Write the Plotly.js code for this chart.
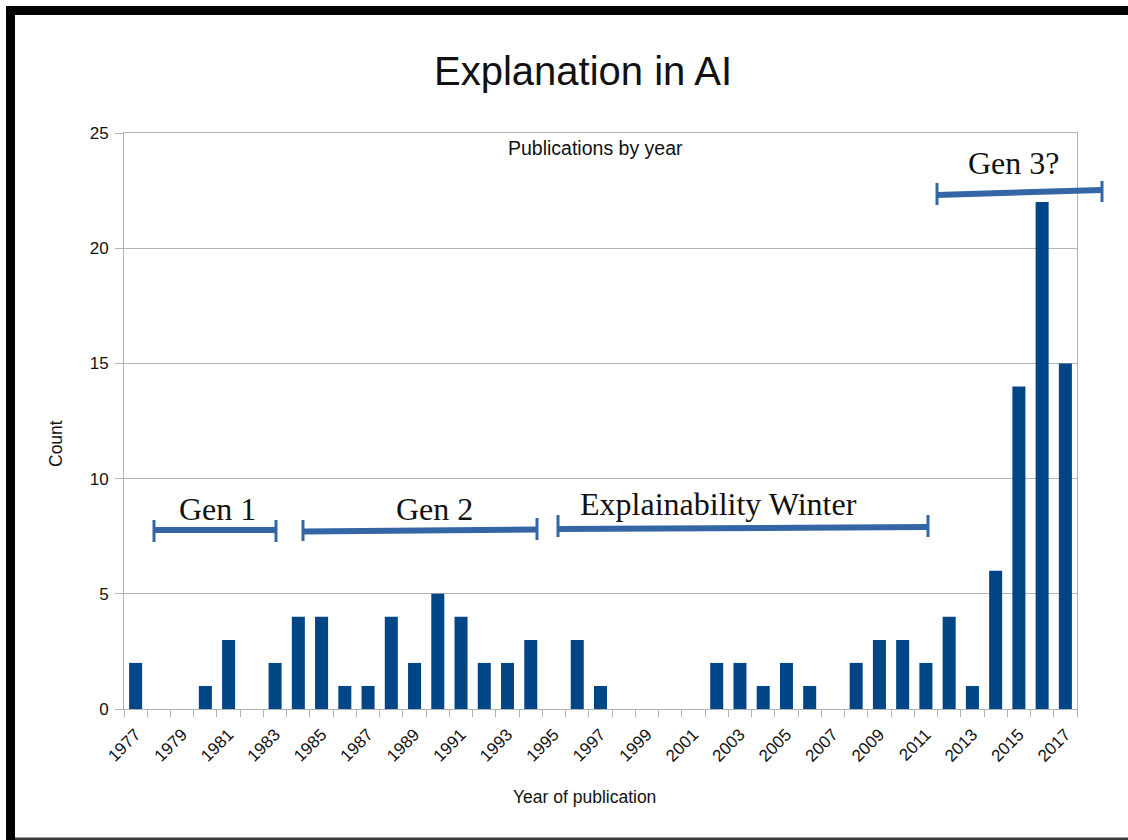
<!DOCTYPE html>
<html>
<head>
<meta charset="utf-8">
<script src="https://cdn.plot.ly/plotly-3.0.1.min.js"></script>
<style>
  html, body { margin: 0; padding: 0; background: #ffffff; }
  #chart { width: 1128px; height: 840px; }
</style>
</head>
<body>
<div id="chart"></div>
<script>
// ---- data ----
const years = [1977,1978,1979,1980,1981,1982,1983,1984,1985,1986,1987,1988,1989,1990,1991,1992,1993,1994,1995,1996,1997,1998,1999,2000,2001,2002,2003,2004,2005,2006,2007,2008,2009,2010,2011,2012,2013,2014,2015,2016,2017];
const counts = [2,0,0,1,3,0,2,4,4,1,1,4,2,5,4,2,2,3,0,3,1,0,0,0,0,2,2,1,2,1,0,2,3,3,2,4,1,6,14,22,15];
const tickYears = [1977,1979,1981,1983,1985,1987,1989,1991,1993,1995,1997,1999,2001,2003,2005,2007,2009,2011,2013,2015,2017];
const tickLabels = tickYears.map(String);
const eraLabels = ["Gen 1", "Gen 2", "Explainability Winter", "Gen 3?"];

// ---- layout helpers (pixel -> paper) ----
const L = 124, R = 51, T = 133, B = 131, W = 1128, H = 840;
const PW = W - L - R, PH = H - T - B;
const px = x => (x - L) / PW;
const py = y => (H - B - y) / PH;

const barColor = '#004586';
const bracketColor = '#3465a4';
const gridColor = '#b3b3b3';
const sans = 'Liberation Sans, Arial, sans-serif';
const serif = 'Liberation Serif, Times New Roman, serif';

// bracket definitions in pixel space (decoration, not data)
const brackets = [
  {x0:154, y0:530, x1:276, y1:530, c0:[520,542], c1:[520,542], tx:217, ty:509},
  {x0:303, y0:531.5, x1:537, y1:529.5, c0:[520,541], c1:[518,540], tx:434, ty:509},
  {x0:558, y0:529, x1:928, y1:527, c0:[515,537], c1:[515,537], tx:718, ty:504},
  {x0:937, y0:195, x1:1102, y1:190, c0:[183,205], c1:[181,202], tx:1014, ty:163}
];

const shapes = [
  // black frame top and left, grey bottom edge
  {type:'rect', xref:'paper', yref:'paper', x0:px(6), x1:px(1128), y0:py(15), y1:py(6), fillcolor:'#000', line:{width:0}, layer:'above'},
  {type:'rect', xref:'paper', yref:'paper', x0:px(6), x1:px(15), y0:py(840), y1:py(6), fillcolor:'#000', line:{width:0}, layer:'above'},
  {type:'rect', xref:'paper', yref:'paper', x0:px(15), x1:px(1128), y0:py(840), y1:py(837.5), fillcolor:'#3a3a3a', line:{width:0}, layer:'above'}
];
const annotations = [];
brackets.forEach((b, i) => {
  shapes.push({type:'line', xref:'paper', yref:'paper', x0:px(b.x0), y0:py(b.y0), x1:px(b.x1), y1:py(b.y1), line:{color:bracketColor, width:6}, layer:'above'});
  shapes.push({type:'line', xref:'paper', yref:'paper', x0:px(b.x0), y0:py(b.c0[0]), x1:px(b.x0), y1:py(b.c0[1]), line:{color:bracketColor, width:3}, layer:'above'});
  shapes.push({type:'line', xref:'paper', yref:'paper', x0:px(b.x1), y0:py(b.c1[0]), x1:px(b.x1), y1:py(b.c1[1]), line:{color:bracketColor, width:3}, layer:'above'});
  annotations.push({xref:'paper', yref:'paper', x:px(b.tx), y:py(b.ty), xanchor:'center', yanchor:'middle', showarrow:false, text:eraLabels[i], font:{family:serif, size:32, color:'#111'}});
});
annotations.push({xref:'paper', yref:'paper', x:px(595), y:py(148), xanchor:'center', yanchor:'middle', showarrow:false, text:'Publications by year', font:{family:sans, size:19.5, color:'#111'}});
annotations.push({xref:'paper', yref:'paper', x:px(56), y:py(444), xanchor:'center', yanchor:'middle', showarrow:false, textangle:-90, text:'Count', font:{family:sans, size:17.5, color:'#111'}});
annotations.push({xref:'paper', yref:'paper', x:px(584), y:py(797), xanchor:'center', yanchor:'middle', showarrow:false, text:'Year of publication', font:{family:sans, size:17.5, color:'#111'}});

const trace = {
  type: 'bar',
  x: years,
  y: counts,
  width: 0.56,
  marker: {color: barColor, line: {width: 0}},
  hoverinfo: 'x+y'
};

const layout = {
  width: W, height: H,
  margin: {l: L, r: R, t: T, b: B, pad: 0},
  paper_bgcolor: '#ffffff',
  plot_bgcolor: '#ffffff',
  showlegend: false,
  title: {text: 'Explanation in AI', x: 583 / W, xref: 'container', xanchor: 'center', y: 1 - 71 / H, yref: 'container', yanchor: 'middle', font: {family: sans, size: 40, color: '#111'}},
  xaxis: {
    type: 'linear',
    range: [1976.5, 2017.5],
    tickmode: 'array',
    tickvals: tickYears,
    ticktext: tickLabels,
    tickangle: -45,
    ticks: '',
    ticklabelstandoff: 8,
    tickfont: {family: sans, size: 17, color: '#111'},
    showgrid: false,
    zeroline: false,
    showline: true,
    linecolor: gridColor,
    linewidth: 1,
    mirror: true,
    minor: {tick0: 1976.5, dtick: 1, ticks: 'outside', ticklen: 7, tickcolor: gridColor, tickwidth: 1, showgrid: false}
  },
  yaxis: {
    range: [0, 25],
    dtick: 5,
    ticks: 'outside',
    ticklen: 8,
    tickcolor: gridColor,
    ticklabelstandoff: 3,
    tickfont: {family: sans, size: 17, color: '#111'},
    showgrid: true,
    gridcolor: gridColor,
    gridwidth: 1,
    zeroline: false,
    showline: true,
    linecolor: gridColor,
    mirror: true
  },
  shapes: shapes,
  annotations: annotations
};

Plotly.newPlot('chart', [trace], layout, {displayModeBar: false, staticPlot: true});
</script>
</body>
</html>
